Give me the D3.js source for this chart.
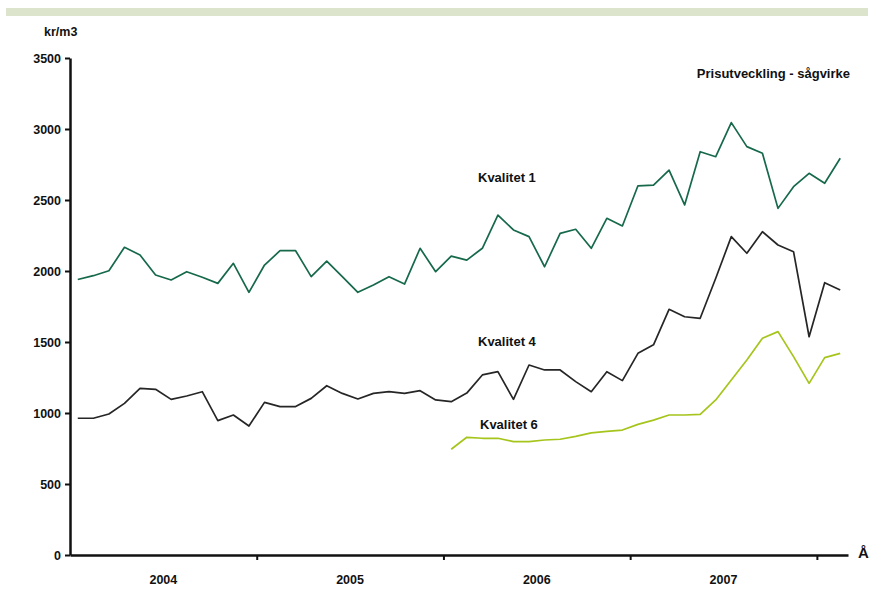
<!DOCTYPE html>
<html>
<head>
<meta charset="utf-8">
<script src="https://cdn.jsdelivr.net/npm/d3@7"></script>
<style>
  body { margin: 0; background: #fff; }
  svg text { font-family: "Liberation Sans Narrow", "Arial Narrow", "Liberation Sans", sans-serif; font-weight: bold; fill: #111; }
</style>
</head>
<body>
<div id="chart"></div>
<script>
const width = 875,
    height = 594,
    margin = {top: 58, right: 27, bottom: 39, left: 70};

// monthly values, kr/m3, first value = Jan 2004 (Kvalitet 6 starts Jan 2006)
const kvalitet1 = [1940, 1967, 2002, 2167, 2113, 1972, 1937, 1995, 1956, 1913, 2054, 1850,
                   2042, 2143, 2143, 1960, 2070, 1960, 1850, 1901, 1960, 1908, 2160, 1995,
                   2105, 2077, 2160, 2394, 2289, 2242, 2030, 2265, 2294, 2160, 2371, 2317,
                   2600, 2605, 2711, 2465, 2840, 2805, 3045, 2876, 2829, 2441, 2594, 2688,
                   2618, 2794];
const kvalitet4 = [963, 963, 993, 1068, 1174, 1167, 1096, 1120, 1150, 946, 986, 908,
                   1075, 1045, 1045, 1103, 1192, 1138, 1099, 1138, 1150, 1138, 1157, 1092,
                   1080, 1140, 1268, 1291, 1096, 1338, 1303, 1303, 1221, 1150, 1291, 1228,
                   1420, 1480, 1730, 1678, 1667, 1949, 2242, 2125, 2277, 2183, 2136, 1537,
                   1918, 1866];
const kvalitet6 = [745, 829, 822, 822, 798, 798, 810, 815, 835, 860, 870, 880,
                   920, 950, 986, 986, 990, 1092, 1232, 1373, 1526, 1573, 1397, 1209,
                   1390, 1420];
const k6Start = 24;

const yTicks = [0, 500, 1000, 1500, 2000, 2500, 3000, 3500];
const yearLabels = ["2004", "2005", "2006", "2007"];
const yearBreaks = [12, 24, 36, 48];

const svg = d3.select("#chart").append("svg")
    .attr("width", width)
    .attr("height", height);

// light green band at the top
svg.append("rect")
    .attr("x", 6).attr("y", 8)
    .attr("width", 862).attr("height", 8)
    .attr("fill", "#dce4cb");

const x = d3.scaleLinear().domain([0, 50]).range([margin.left, width - margin.right]);
const y = d3.scaleLinear().domain([0, 3500]).range([height - margin.bottom, margin.top]);

const yAxis = svg.append("g")
    .attr("transform", `translate(${margin.left},0)`)
    .call(d3.axisLeft(y).tickValues(yTicks).tickFormat(d3.format("d"))
        .tickSize(5).tickPadding(4).tickSizeOuter(0));
yAxis.select(".domain").attr("stroke", "#111").attr("stroke-width", 2.5);
yAxis.selectAll(".tick line").attr("stroke", "#111").attr("stroke-width", 2);
yAxis.selectAll("text").attr("font-size", 12.5).style("font-family", null);

const xAxis = svg.append("g")
    .attr("transform", `translate(0,${y(0)})`)
    .call(d3.axisBottom(x).tickValues(yearBreaks).tickSize(5).tickFormat("").tickSizeOuter(0));
xAxis.select(".domain").attr("stroke", "#111").attr("stroke-width", 2.5);
xAxis.selectAll(".tick line").attr("stroke", "#111").attr("stroke-width", 2);

svg.selectAll(".year")
    .data(yearLabels)
    .enter().append("text")
    .attr("class", "year")
    .attr("x", (d, i) => x(i * 12 + 6))
    .attr("y", y(0) + 29)
    .attr("text-anchor", "middle")
    .attr("font-size", 12.5)
    .text(d => d);

svg.append("text")
    .attr("x", 858).attr("y", y(0) + 3)
    .attr("font-size", 15)
    .text("Å");

svg.append("text")
    .attr("x", 44).attr("y", 36)
    .attr("font-size", 12.5)
    .text("kr/m3");

svg.append("text")
    .attr("x", 850).attr("y", 78)
    .attr("text-anchor", "end")
    .attr("font-size", 13)
    .text("Prisutveckling - sågvirke");

const line = d3.line()
    .x(d => x(d.i + 0.5))
    .y(d => y(d.v));

const series = [
    {name: "Kvalitet 1", values: kvalitet1, start: 0, color: "#16694a", lx: 478, ly: 182},
    {name: "Kvalitet 4", values: kvalitet4, start: 0, color: "#262626", lx: 478, ly: 346},
    {name: "Kvalitet 6", values: kvalitet6, start: k6Start, color: "#a5c51c", lx: 480, ly: 429}
];

series.forEach(s => {
    svg.append("path")
        .datum(s.values.map((v, j) => ({i: s.start + j, v: v})))
        .attr("fill", "none")
        .attr("stroke", s.color)
        .attr("stroke-width", 1.7)
        .attr("stroke-linejoin", "round")
        .attr("d", line);
    svg.append("text")
        .attr("x", s.lx).attr("y", s.ly)
        .attr("font-size", 13)
        .text(s.name);
});
</script>
</body>
</html>
